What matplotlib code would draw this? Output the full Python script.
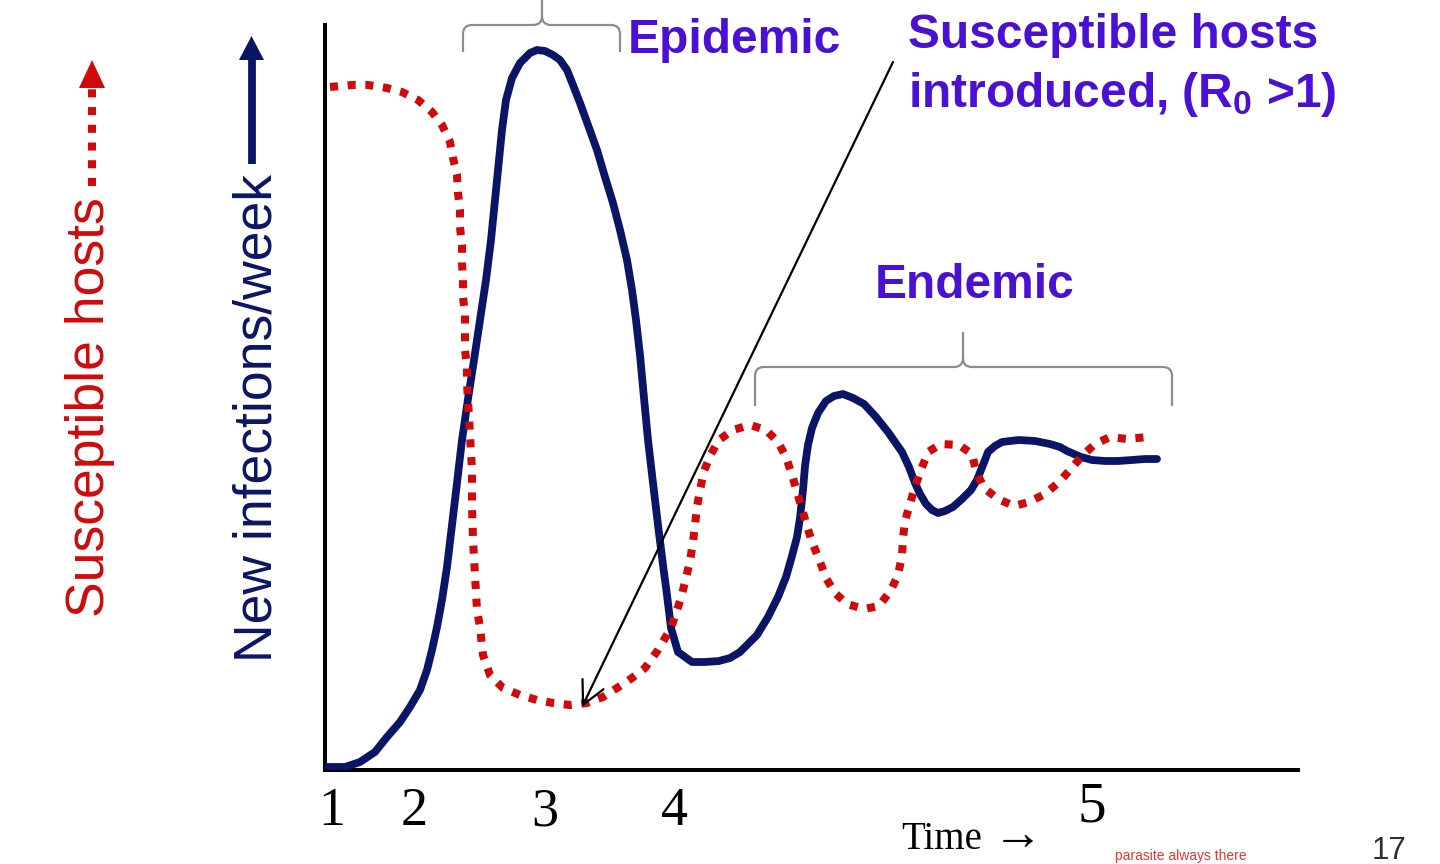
import matplotlib
matplotlib.use("Agg")
import matplotlib.pyplot as plt
from matplotlib.path import Path
from matplotlib.patches import PathPatch, Polygon
from matplotlib.lines import Line2D
from matplotlib.transforms import blended_transform_factory

plt.rcParams['mathtext.fontset'] = 'custom'
plt.rcParams['mathtext.rm'] = 'Liberation Sans'
plt.rcParams['mathtext.bf'] = 'Liberation Sans:bold'

# ---------------- data (arbitrary time / level units) ----------------
infect_t = [2, 20, 35, 50, 62, 75, 85, 95, 102, 107,
            112, 117, 122, 127, 132, 137,
            143, 149, 155, 161, 166, 170, 174, 177, 181, 187, 195,
            205, 212, 220, 228, 235, 242, 248, 255, 263, 272, 280, 288,
            295, 302, 307, 311, 315, 319, 323, 328, 333, 338, 342, 346,
            353, 367, 380, 394, 405, 415, 432, 443, 453, 461, 467, 472,
            475, 478, 480, 483, 487, 493, 501, 509, 518, 528,
            539, 551, 563, 570, 577, 584, 590, 595, 601, 607,
            613, 620, 628, 637, 646, 652, 656, 660, 663, 670,
            677, 685, 694, 710, 725, 735, 742, 749, 756, 767,
            780, 793, 807, 820, 832]
infect_v = [3, 3, 8, 18, 33, 48, 63, 80, 100, 120,
            143, 170, 203, 245, 287, 330,
            371, 410, 450, 490, 530, 570, 610, 640, 670, 692, 707,
            717, 720, 719, 715, 710, 700, 685, 667, 645, 620, 593, 567,
            540, 510, 480, 450, 415, 372, 330, 287, 245, 205, 175, 142,
            118, 108, 108, 109, 112, 118, 135, 153, 173, 193, 214, 233,
            252, 280, 304, 325, 342, 357, 369, 374, 376, 372,
            366, 353, 338, 328, 318, 303, 287, 276, 266, 260,
            257, 259, 263, 271, 280, 290, 300, 310, 318, 324,
            328, 329, 330, 329, 326, 323, 319, 316, 313, 310,
            309, 309, 310, 311, 311]

suscept_t = [5, 27, 43, 62, 77, 93, 107, 117, 125, 128,
             132, 133, 135, 135, 137, 137, 138, 138, 140, 140,
             140, 142, 142, 143, 145, 147, 147, 148, 150, 152,
             155, 158, 165, 178, 195, 212, 228, 245, 262, 278,
             292, 307, 320, 333, 346, 356, 361, 365, 368, 370,
             372, 375, 379, 386, 394, 408, 425, 441, 453, 461,
             467, 472, 477, 482, 487, 494, 501, 510, 522, 539,
             554, 566, 573, 577, 578, 580, 585, 590, 596, 603,
             616, 634, 647, 651, 659, 673, 689, 704, 720, 733,
             745, 757, 770, 785, 802, 823]
suscept_v = [683, 685, 685, 682, 678, 670, 658, 645, 628, 612,
             595, 577, 560, 543, 525, 507, 490, 473, 455, 438,
             420, 403, 387, 370, 335, 300, 265, 230, 195, 160,
             143, 115, 95, 82, 75, 70, 67, 65, 67, 73,
             82, 92, 102, 120, 142, 172, 192, 209, 228, 245,
             263, 280, 299, 316, 330, 340, 345, 340, 328, 313,
             295, 278, 261, 244, 228, 211, 192, 177, 166, 161,
             164, 180, 195, 214, 232, 249, 266, 283, 300, 318,
             326, 325, 316, 299, 282, 271, 264, 268, 276, 287,
             300, 314, 326, 333, 331, 333]

tick_pos = [7, 89, 220, 350, 767]
tick_labels = ["1", "2", "3", "4", "5"]

NAVY = '#0b1565'
RED = '#d00a0a'
PURPLE = '#4a10d4'
GRAY = '#8c8c8c'

W, H = 1440, 864
def fx(x):
    return x / W
def fy(y):
    return 1 - y / H

fig = plt.figure(figsize=(14.4, 8.64), dpi=100)
fig.patch.set_facecolor('white')
ax = fig.add_axes([fx(325), fy(770), 973 / W, 745 / H])
ax.set_xlim(0, 973)
ax.set_ylim(0, 745)
for s in ['top', 'right']:
    ax.spines[s].set_visible(False)
for s in ['left', 'bottom']:
    ax.spines[s].set_linewidth(2.9)
    ax.spines[s].set_color('black')
ax.set_xticks([])
ax.set_yticks([])

# curves
ax.plot(infect_t, infect_v, color=NAVY, lw=5.6, solid_capstyle='round',
        solid_joinstyle='round', zorder=3)
ax.plot(suscept_t, suscept_v, color=RED, lw=5.8, linestyle=(0, (1, 1.2)),
        dash_capstyle='butt', zorder=4)

# annotation arrow
ax.annotate('', xy=(257, 63), xytext=(568, 708),
            arrowprops=dict(arrowstyle='->, head_length=0.55, head_width=0.28',
                            color='black', lw=1.6,
                            mutation_scale=30, shrinkA=0, shrinkB=0),
            annotation_clip=False, zorder=5)

# braces
def brace(x0, x1, xc, yh, yend, ytip, r=9):
    verts = [(x0, yend), (x0, yh - r), (x0, yh), (x0 + r, yh),
             (xc - r, yh), (xc, yh), (xc, yh + r), (xc, ytip),
             (x1, yend), (x1, yh - r), (x1, yh), (x1 - r, yh),
             (xc + r, yh), (xc, yh), (xc, yh + r)]
    codes = [Path.MOVETO, Path.LINETO, Path.CURVE3, Path.CURVE3,
             Path.LINETO, Path.CURVE3, Path.CURVE3, Path.LINETO,
             Path.MOVETO, Path.LINETO, Path.CURVE3, Path.CURVE3,
             Path.LINETO, Path.CURVE3, Path.CURVE3]
    p = PathPatch(Path(verts, codes), facecolor='none', edgecolor=GRAY,
                  lw=1.6, clip_on=False, zorder=2)
    ax.add_patch(p)

brace(138, 295, 217, 745, 718, 775)
brace(430, 847, 638, 403, 364, 438)

# purple labels (figure pixel coords)
kw = dict(color=PURPLE, fontsize=34.5, fontweight='bold',
          family=['Liberation Sans', 'DejaVu Sans'], va='baseline', ha='left')
fig.text(fx(628), fy(53), "Epidemic", **kw)
fig.text(fx(875), fy(298), "Endemic", **kw)
fig.text(fx(908), fy(48), "Susceptible hosts", **kw)
fig.text(fx(908), fy(107), r"introduced, ($\mathbf{R_0}$ >1)", **kw)

# tick labels
trans = blended_transform_factory(ax.transData, fig.transFigure)
tick_base = [825, 825, 825, 825, 821]
for p, lab, b in zip(tick_pos, tick_labels, tick_base):
    ax.text(p, fy(b), lab, transform=trans, ha='center', va='baseline',
            fontsize=39 if lab != "5" else 41,
            family=['Liberation Serif', 'DejaVu Serif'], color='black')

fig.text(fx(901), fy(849), "Time", fontsize=28,
         family=['Liberation Serif', 'DejaVu Serif'], color='black',
         ha='left', va='baseline')
fig.text(fx(1018), fy(849), "\u2192", fontsize=36,
         family=['Liberation Serif', 'DejaVu Serif'], color='black',
         ha='center', va='baseline')
fig.text(fx(1372), fy(836), "17", fontsize=22.5,
         family=['Liberation Sans', 'DejaVu Sans'], color='#303030',
         ha='left', va='top')
fig.text(fx(1115), fy(860), "parasite always there", fontsize=10,
         family=['Liberation Sans', 'DejaVu Sans'], color='#e83535',
         ha='left', va='baseline')

# left axis labels
fig.text(fx(104), fy(407), "Susceptible hosts", rotation=90,
         rotation_mode='anchor', ha='center', va='baseline', fontsize=38.5,
         family=['Liberation Sans', 'DejaVu Sans'], color=RED)
fig.text(fx(272), fy(418), "New infections/week", rotation=90,
         rotation_mode='anchor', ha='center', va='baseline', fontsize=38.5,
         family=['Liberation Sans', 'DejaVu Sans'], color=NAVY)

# left arrows
fig.add_artist(Line2D([fx(92), fx(92)], [fy(186), fy(89)],
                      transform=fig.transFigure, color=RED, lw=5.8,
                      linestyle=(0, (1, 1.2)), dash_capstyle='butt'))
fig.add_artist(Polygon([(fx(79), fy(88)), (fx(105), fy(88)), (fx(92), fy(60))],
                       closed=True, transform=fig.transFigure,
                       facecolor=RED, edgecolor='none'))
fig.add_artist(Line2D([fx(251.5), fx(251.5)], [fy(164), fy(58)],
                      transform=fig.transFigure, color=NAVY, lw=5.6,
                      solid_capstyle='butt'))
fig.add_artist(Polygon([(fx(239), fy(60)), (fx(264), fy(60)), (fx(251.5), fy(36))],
                       closed=True, transform=fig.transFigure,
                       facecolor=NAVY, edgecolor='none'))

fig.savefig("out.png", dpi=100, facecolor='white')
